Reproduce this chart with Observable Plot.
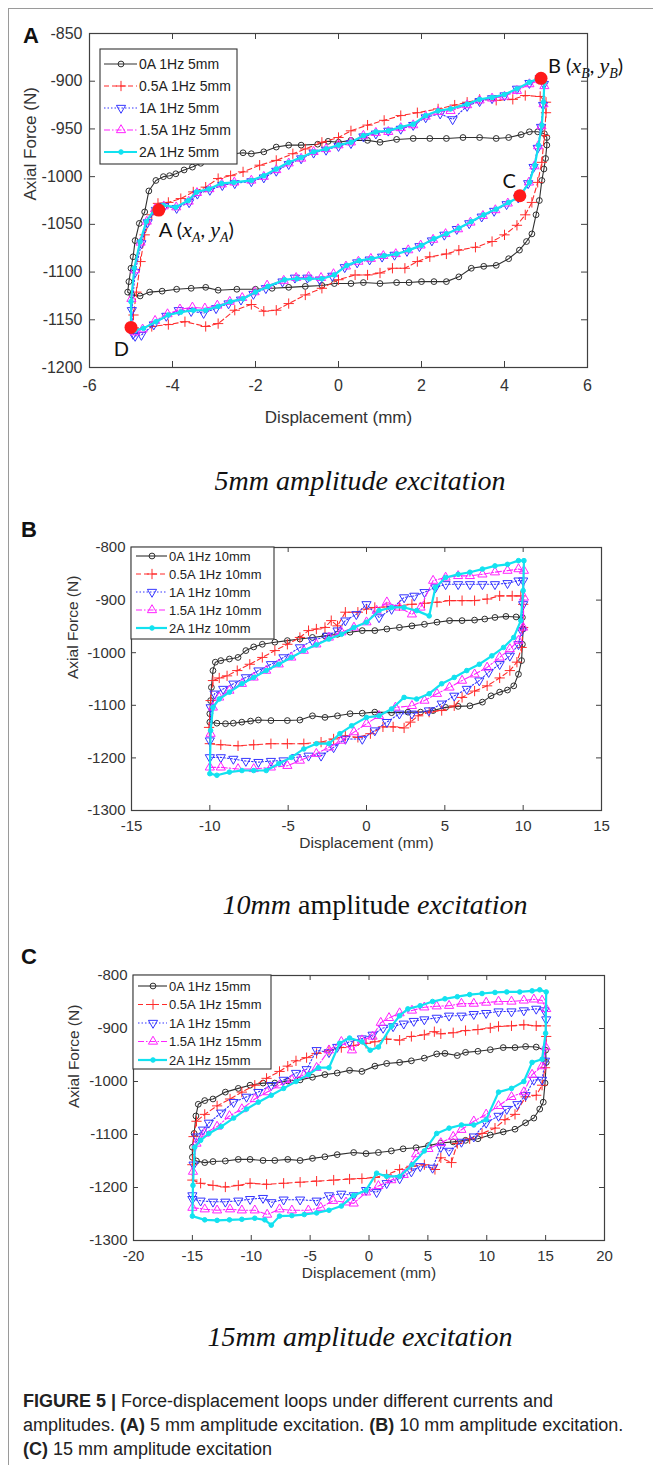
<!DOCTYPE html>
<html><head><meta charset="utf-8">
<script src="https://cdn.jsdelivr.net/npm/d3@7"></script>
<script src="https://cdn.jsdelivr.net/npm/@observablehq/plot@0.6"></script>
<style>
body{margin:0;background:#fff;}
#page{position:relative;width:653px;height:1465px;overflow:hidden;background:#fff;}
#page svg{overflow:visible;}
</style></head><body><div id="page"></div>
<script>
// ---------- DATA ----------
const seriesKeys = ["0A", "0.5A", "1A", "1.5A", "2A"];
const legendA = ["0A 1Hz 5mm", "0.5A 1Hz 5mm", "1A 1Hz 5mm", "1.5A 1Hz 5mm", "2A 1Hz 5mm"];
const legendB = ["0A 1Hz 10mm", "0.5A 1Hz 10mm", "1A 1Hz 10mm", "1.5A 1Hz 10mm", "2A 1Hz 10mm"];
const legendC = ["0A 1Hz 15mm", "0.5A 1Hz 15mm", "1A 1Hz 15mm", "1.5A 1Hz 15mm", "2A 1Hz 15mm"];

const xTicksA = [-6, -4, -2, 0, 2, 4, 6];
const yTicksA = [-1200, -1150, -1100, -1050, -1000, -950, -900, -850];
const xTicksB = [-15, -10, -5, 0, 5, 10, 15];
const yTicksB = [-1300, -1200, -1100, -1000, -900, -800];
const xTicksC = [-20, -15, -10, -5, 0, 5, 10, 15, 20];
const yTicksC = [-1300, -1200, -1100, -1000, -900, -800];

// Panel A: 5 mm
const a5_0A = [[-5.08,-1121],[-5.05,-1110],[-5.0,-1096],[-4.95,-1084],[-4.9,-1067],[-4.8,-1049],[-4.67,-1037],[-4.57,-1015],[-4.4,-1004],[-4.22,-1000],[-4.07,-999],[-3.92,-997],[-3.72,-993],[-3.52,-990],[-3.32,-986],[-3.12,-983],[-2.92,-980],[-2.72,-974],[-2.52,-976],[-2.3,-975],[-2.1,-976],[-1.8,-974],[-1.5,-969],[-1.2,-967],[-0.9,-967],[-0.5,-966],[-0.25,-963],[0,-964],[0.3,-962],[0.7,-962],[1.0,-964],[1.4,-961],[1.8,-960],[2.2,-960],[2.6,-960],[3.0,-959],[3.4,-959],[3.8,-960],[4.1,-959],[4.4,-956],[4.6,-953],[4.8,-953],[4.96,-955],[5.02,-959],[5.02,-967],[4.99,-981],[4.95,-992],[4.9,-1004],[4.84,-1025],[4.76,-1040],[4.66,-1060],[4.53,-1068],[4.36,-1077],[4.1,-1086],[3.8,-1093],[3.5,-1094],[3.2,-1096],[2.9,-1105],[2.6,-1110],[2.3,-1110],[2.0,-1110],[1.7,-1111],[1.4,-1111],[1.0,-1112],[0.6,-1111],[0.3,-1112],[-0.1,-1112],[-0.4,-1114],[-0.8,-1115],[-1.2,-1116],[-1.6,-1117],[-2.0,-1118],[-2.45,-1118],[-2.9,-1119],[-3.2,-1116],[-3.55,-1117],[-3.9,-1118],[-4.25,-1120],[-4.55,-1121],[-4.78,-1125],[-4.98,-1124]];
const a5_05A = [[-4.94,-1159],[-4.5,-1157],[-4.1,-1155],[-3.7,-1152],[-3.2,-1157],[-2.9,-1154],[-2.5,-1140],[-2.1,-1134],[-1.8,-1141],[-1.5,-1140],[-1.2,-1133],[-0.8,-1124],[-0.4,-1117],[0,-1108],[0.4,-1103],[0.7,-1103],[1.0,-1101],[1.3,-1096],[1.6,-1096],[1.9,-1089],[2.2,-1084],[2.6,-1081],[2.9,-1077],[3.3,-1074],[3.7,-1068],[4.0,-1061],[4.3,-1051],[4.5,-1040],[4.66,-1027],[4.8,-1006],[4.9,-985],[4.96,-957],[5.0,-933],[5.0,-922],[4.86,-916],[4.5,-915],[4.2,-919],[3.8,-920],[3.4,-919],[3.1,-922],[2.8,-925],[2.4,-929],[1.9,-933],[1.5,-936],[1.1,-941],[0.7,-946],[0.3,-952],[0,-959],[-0.4,-964],[-0.8,-971],[-1.1,-976],[-1.5,-983],[-1.9,-988],[-2.3,-995],[-2.6,-999],[-2.9,-1002],[-3.2,-1011],[-3.5,-1016],[-3.8,-1023],[-4.1,-1027],[-4.35,-1028],[-4.5,-1040],[-4.67,-1061],[-4.77,-1089],[-4.87,-1121],[-4.94,-1145]];
const a5_1A = [[-4.95,-1165],[-4.98,-1140],[-4.9,-1100],[-4.75,-1070],[-4.6,-1048],[-4.4,-1035],[-4.2,-1031],[-3.9,-1033],[-3.6,-1027],[-3.4,-1018],[-3.1,-1014],[-2.8,-1009],[-2.5,-1007],[-2.1,-1005],[-1.8,-1001],[-1.5,-994],[-1.2,-987],[-0.9,-981],[-0.6,-975],[-0.3,-972],[0,-968],[0.3,-965],[0.6,-958],[0.9,-955],[1.2,-952],[1.5,-950],[1.8,-946],[2.1,-938],[2.45,-934],[2.75,-940],[3.1,-926],[3.4,-921],[3.7,-918],[4.0,-915],[4.3,-908],[4.6,-902],[4.85,-897],[4.95,-903],[4.93,-925],[4.88,-948],[4.8,-970],[4.7,-990],[4.57,-1007],[4.33,-1022],[4.05,-1029],[3.75,-1036],[3.45,-1042],[3.15,-1049],[2.85,-1055],[2.55,-1061],[2.25,-1067],[1.95,-1073],[1.65,-1078],[1.35,-1082],[1.05,-1084],[0.75,-1087],[0.45,-1090],[0.15,-1095],[-0.15,-1104],[-0.45,-1108],[-0.75,-1106],[-1.05,-1106],[-1.35,-1110],[-1.75,-1117],[-2.05,-1123],[-2.35,-1129],[-2.65,-1133],[-2.95,-1138],[-3.25,-1143],[-3.55,-1141],[-3.85,-1140],[-4.15,-1146],[-4.45,-1155],[-4.75,-1166],[-4.9,-1167]];
const a5_15A = [[-4.98,-1160],[-4.99,-1128],[-4.91,-1098],[-4.77,-1069],[-4.62,-1047],[-4.42,-1034],[-4.21,-1031],[-3.91,-1032],[-3.61,-1026],[-3.41,-1017],[-3.11,-1013],[-2.81,-1008],[-2.51,-1006],[-2.1,-1004],[-1.8,-1000],[-1.5,-993],[-1.2,-986],[-0.9,-981],[-0.6,-974],[-0.3,-971],[0,-967],[0.3,-964],[0.6,-957],[0.9,-954],[1.2,-953],[1.5,-949],[1.8,-946],[2.1,-937],[2.4,-932],[2.7,-931],[3.1,-925],[3.4,-920],[3.7,-918],[4.0,-916],[4.3,-910],[4.6,-903],[4.87,-899],[4.96,-905],[4.94,-924],[4.89,-947],[4.81,-968],[4.72,-989],[4.59,-1006],[4.35,-1021],[4.08,-1028],[3.78,-1035],[3.48,-1041],[3.18,-1048],[2.88,-1055],[2.58,-1060],[2.28,-1066],[1.98,-1072],[1.68,-1077],[1.38,-1081],[1.08,-1083],[0.78,-1086],[0.48,-1089],[0.18,-1094],[-0.12,-1102],[-0.42,-1106],[-0.72,-1105],[-1.02,-1106],[-1.32,-1109],[-1.72,-1114],[-2.02,-1121],[-2.32,-1127],[-2.62,-1131],[-2.92,-1135],[-3.22,-1138],[-3.52,-1137],[-3.82,-1139],[-4.12,-1144],[-4.42,-1151],[-4.72,-1160],[-4.9,-1163]];
const a5_2A = [[-5.0,-1157],[-5.0,-1131],[-4.92,-1096],[-4.78,-1068],[-4.63,-1047],[-4.43,-1034],[-4.22,-1030],[-3.92,-1032],[-3.62,-1025],[-3.42,-1016],[-3.12,-1013],[-2.82,-1007],[-2.52,-1006],[-2.1,-1004],[-1.8,-999],[-1.5,-992],[-1.2,-985],[-0.9,-980],[-0.6,-974],[-0.3,-971],[0,-967],[0.3,-964],[0.6,-957],[0.9,-953],[1.2,-952],[1.5,-948],[1.8,-945],[2.1,-936],[2.4,-931],[2.7,-929],[3.1,-924],[3.4,-919],[3.7,-917],[4.0,-914],[4.3,-908],[4.6,-901],[4.88,-896],[4.96,-901],[4.94,-922],[4.9,-946],[4.82,-967],[4.73,-988],[4.6,-1006],[4.36,-1021],[4.1,-1027],[3.8,-1034],[3.5,-1040],[3.2,-1047],[2.9,-1054],[2.6,-1060],[2.3,-1065],[2.0,-1072],[1.7,-1077],[1.4,-1081],[1.1,-1083],[0.8,-1086],[0.5,-1088],[0.2,-1093],[-0.1,-1103],[-0.4,-1107],[-0.7,-1107],[-1.0,-1107],[-1.3,-1108],[-1.7,-1115],[-2.0,-1121],[-2.3,-1128],[-2.6,-1131],[-2.9,-1136],[-3.2,-1140],[-3.5,-1140],[-3.8,-1142],[-4.1,-1145],[-4.4,-1152],[-4.7,-1159],[-4.9,-1161]];

// Key points on the 5 mm loop
const keyLabels = ["A", "B", "C", "D"];
const keyX = [-4.33, 4.88, 4.37, -5.0];
const keyY = [-1035, -897, -1020, -1158];

// Panel B: 10 mm
const b10_0A = [[-10.0,-1132],[-9.55,-1134],[-9.0,-1135],[-8.5,-1134],[-7.96,-1132],[-7.4,-1130],[-6.9,-1128],[-6.1,-1129],[-5.05,-1129],[-4.25,-1128],[-3.45,-1120],[-2.65,-1123],[-1.85,-1120],[-1.05,-1116],[-0.27,-1115],[0.53,-1113],[1.6,-1114],[2.65,-1113],[3.45,-1113],[4.25,-1110],[5.05,-1104],[5.85,-1102],[6.6,-1101],[7.4,-1094],[7.95,-1082],[8.5,-1075],[9.0,-1071],[9.4,-1063],[9.7,-1041],[9.9,-1015],[9.95,-984],[10.0,-955],[9.95,-933],[9.55,-932],[8.9,-931],[8.2,-933],[7.55,-936],[6.9,-938],[6.1,-939],[5.3,-939],[4.5,-942],[3.7,-946],[2.9,-949],[2.1,-952],[1.3,-955],[0.53,-958],[-0.27,-958],[-1.05,-961],[-1.85,-965],[-2.65,-968],[-3.45,-971],[-4.25,-974],[-5.05,-977],[-5.85,-980],[-6.65,-984],[-7.2,-989],[-7.7,-996],[-8.2,-1009],[-8.75,-1012],[-9.3,-1015],[-9.65,-1018],[-9.8,-1034],[-9.9,-1066],[-9.95,-1091],[-10.0,-1116]];
const b10_05A = [[-10.0,-1173],[-9.3,-1175],[-8.2,-1177],[-7.2,-1175],[-6.1,-1173],[-5.05,-1173],[-4.0,-1173],[-2.9,-1170],[-2.1,-1164],[-1.35,-1158],[-0.55,-1161],[0.25,-1154],[1.05,-1141],[1.7,-1141],[2.4,-1143],[2.8,-1132],[3.3,-1120],[4.0,-1113],[4.8,-1110],[5.6,-1101],[6.1,-1085],[6.9,-1073],[7.7,-1063],[8.5,-1048],[9.15,-1034],[9.6,-1018],[9.9,-990],[10.0,-952],[10.0,-908],[9.85,-892],[9.3,-892],[8.5,-892],[7.7,-898],[6.9,-901],[6.1,-901],[5.3,-901],[4.5,-904],[3.7,-906],[2.9,-908],[2.1,-911],[1.3,-913],[0.53,-914],[0.0,-917],[-0.55,-923],[-1.35,-923],[-1.85,-949],[-2.25,-939],[-2.65,-952],[-3.2,-955],[-3.7,-958],[-4.25,-971],[-5.05,-984],[-5.85,-996],[-6.65,-1009],[-7.45,-1022],[-8.25,-1034],[-8.9,-1044],[-9.4,-1048],[-9.8,-1053],[-9.95,-1091],[-10.05,-1142]];
const b10_1A = [[-10.0,-1199],[-9.3,-1199],[-8.5,-1202],[-7.7,-1206],[-6.9,-1208],[-6.1,-1206],[-5.3,-1205],[-4.5,-1199],[-3.7,-1196],[-2.9,-1196],[-2.1,-1180],[-1.35,-1164],[-0.27,-1164],[0.53,-1148],[1.3,-1132],[2.1,-1116],[2.9,-1116],[3.98,-1110],[4.8,-1097],[5.6,-1082],[6.4,-1069],[7.2,-1053],[7.8,-1037],[8.5,-1022],[9.15,-1006],[9.7,-984],[9.9,-958],[10.0,-908],[10.0,-863],[9.7,-863],[9.0,-868],[8.2,-870],[7.4,-870],[6.6,-870],[5.85,-870],[5.05,-870],[4.4,-876],[3.7,-885],[3.05,-892],[2.4,-895],[1.6,-917],[0.8,-933],[0.0,-908],[-0.65,-927],[-1.35,-939],[-1.85,-958],[-2.5,-968],[-3.45,-977],[-4.25,-990],[-5.3,-1009],[-6.1,-1022],[-6.9,-1034],[-7.7,-1047],[-8.5,-1059],[-9.15,-1069],[-9.7,-1078],[-9.95,-1104],[-10.0,-1167]];
const b10_15A = [[-10.0,-1218],[-9.3,-1218],[-8.2,-1221],[-7.2,-1221],[-6.1,-1218],[-5.05,-1215],[-4.25,-1205],[-3.2,-1192],[-2.4,-1180],[-1.6,-1167],[-0.8,-1151],[0.0,-1135],[0.8,-1120],[1.85,-1104],[2.9,-1101],[3.7,-1091],[4.5,-1078],[5.3,-1066],[6.1,-1053],[6.9,-1041],[7.7,-1028],[8.5,-1009],[9.15,-993],[9.7,-977],[10.0,-952],[10.05,-895],[10.05,-844],[9.7,-841],[9.0,-844],[8.2,-847],[7.4,-851],[6.6,-854],[5.85,-854],[5.05,-857],[4.25,-863],[3.45,-914],[2.9,-927],[2.1,-914],[1.3,-904],[0.65,-920],[0.0,-942],[-0.8,-952],[-1.6,-961],[-2.4,-971],[-3.2,-984],[-4.0,-996],[-4.8,-1009],[-5.6,-1022],[-6.4,-1034],[-7.2,-1047],[-7.95,-1059],[-8.75,-1072],[-9.4,-1085],[-9.8,-1104],[-9.95,-1154]];
const b10_2A = [[-10.0,-1230],[-9.55,-1233],[-8.75,-1227],[-7.95,-1224],[-7.2,-1224],[-6.4,-1224],[-5.6,-1211],[-4.8,-1199],[-4.0,-1183],[-3.2,-1173],[-2.4,-1173],[-1.7,-1154],[-0.95,-1139],[0.0,-1123],[0.8,-1120],[1.6,-1107],[2.4,-1085],[3.2,-1088],[4.0,-1078],[4.8,-1059],[5.6,-1047],[6.4,-1034],[7.2,-1022],[8.0,-1006],[8.75,-990],[9.4,-971],[9.85,-939],[10.0,-882],[10.05,-825],[9.7,-825],[9.0,-832],[8.2,-835],[7.4,-841],[6.6,-847],[5.85,-851],[5.05,-857],[4.4,-876],[4.0,-930],[3.2,-920],[2.4,-914],[1.6,-914],[0.8,-920],[0.0,-942],[-0.8,-952],[-1.6,-965],[-2.4,-974],[-3.2,-985],[-4.0,-996],[-4.8,-1009],[-5.6,-1022],[-6.4,-1034],[-7.2,-1047],[-7.95,-1059],[-8.75,-1075],[-9.4,-1088],[-9.8,-1104],[-9.95,-1148]];

// Panel C: 15 mm
const c15_0A = [[-15.0,-1143],[-14.65,-1150],[-13.95,-1153],[-13.25,-1151],[-12.2,-1150],[-11.1,-1147],[-10.1,-1147],[-9.0,-1149],[-8.0,-1149],[-6.9,-1147],[-5.85,-1149],[-4.8,-1145],[-3.75,-1142],[-2.7,-1138],[-1.3,-1134],[-0.25,-1136],[0.8,-1134],[1.9,-1131],[2.9,-1127],[4.0,-1125],[5.05,-1121],[6.1,-1116],[7.15,-1114],[8.2,-1111],[9.25,-1108],[10.3,-1101],[11.4,-1095],[12.4,-1090],[13.3,-1078],[14.0,-1069],[14.5,-1052],[14.8,-1039],[14.95,-1003],[15.05,-964],[15.0,-941],[14.2,-935],[13.3,-934],[12.4,-936],[11.4,-936],[10.3,-940],[9.25,-943],[8.2,-945],[7.5,-951],[6.45,-947],[5.75,-948],[4.7,-956],[3.6,-961],[2.6,-964],[1.5,-966],[0.5,-971],[-0.6,-981],[-1.65,-979],[-2.7,-984],[-3.75,-987],[-4.8,-992],[-5.85,-997],[-6.9,-999],[-8.0,-1003],[-9.0,-1003],[-10.1,-1007],[-11.1,-1013],[-12.2,-1020],[-13.25,-1033],[-13.95,-1036],[-14.5,-1043],[-14.7,-1065],[-14.85,-1098],[-15.0,-1124]];
const c15_05A = [[-15.0,-1186],[-14.3,-1192],[-13.25,-1196],[-12.2,-1199],[-11.1,-1196],[-10.1,-1192],[-8.7,-1194],[-7.25,-1192],[-5.85,-1190],[-4.45,-1188],[-3.0,-1186],[-1.65,-1184],[-0.6,-1183],[0.5,-1181],[1.5,-1176],[2.6,-1166],[3.6,-1160],[4.7,-1157],[5.6,-1166],[6.1,-1144],[7.0,-1153],[7.5,-1117],[8.55,-1108],[9.6,-1098],[10.7,-1088],[11.55,-1072],[12.4,-1062],[13.3,-1029],[14.2,-1026],[14.7,-1007],[14.95,-974],[15.05,-915],[15.0,-895],[14.2,-895],[13.15,-893],[12.1,-895],[11.0,-896],[10.3,-899],[9.25,-902],[8.2,-904],[7.15,-908],[6.1,-910],[5.55,-906],[4.7,-912],[3.6,-915],[2.6,-922],[1.5,-920],[0.5,-925],[-0.25,-928],[-1.3,-932],[-2.35,-936],[-3.4,-941],[-4.45,-947],[-5.3,-955],[-6.2,-961],[-6.9,-971],[-7.6,-981],[-8.7,-994],[-9.7,-1007],[-10.8,-1020],[-11.8,-1033],[-12.9,-1046],[-13.95,-1062],[-14.65,-1075],[-14.9,-1104],[-15.0,-1157]];
const c15_1A = [[-15.0,-1222],[-14.3,-1225],[-13.25,-1227],[-12.2,-1227],[-11.1,-1225],[-10.1,-1222],[-9.0,-1220],[-8.3,-1228],[-7.25,-1223],[-5.85,-1223],[-4.45,-1225],[-3.4,-1215],[-2.35,-1212],[-1.3,-1215],[-0.25,-1205],[0.65,-1209],[1.5,-1192],[2.6,-1183],[3.6,-1170],[4.35,-1160],[5.4,-1163],[6.1,-1124],[6.8,-1131],[7.85,-1114],[8.9,-1104],[9.95,-1078],[11.0,-1065],[11.7,-1052],[12.6,-1043],[13.3,-1026],[14.0,-997],[14.7,-997],[14.95,-961],[15.05,-883],[14.9,-866],[14.2,-863],[13.15,-866],[12.1,-868],[11.0,-868],[9.95,-871],[8.9,-873],[7.85,-876],[6.8,-876],[5.75,-880],[4.7,-883],[3.8,-886],[2.95,-891],[2.05,-896],[1.2,-899],[0.3,-912],[-0.6,-919],[-1.65,-925],[-2.7,-935],[-3.4,-945],[-4.45,-941],[-5.3,-977],[-6.2,-984],[-7.25,-997],[-8.3,-1007],[-9.4,-1020],[-10.4,-1029],[-11.5,-1039],[-12.55,-1059],[-13.6,-1078],[-14.1,-1091],[-14.65,-1104],[-14.9,-1157],[-15.0,-1215]];
const c15_15A = [[-15.0,-1238],[-13.95,-1241],[-12.9,-1243],[-11.8,-1241],[-10.8,-1243],[-9.7,-1243],[-8.65,-1251],[-7.6,-1241],[-6.55,-1243],[-5.15,-1243],[-4.1,-1238],[-3.05,-1225],[-1.95,-1228],[-1.3,-1230],[-0.25,-1209],[0.8,-1197],[1.9,-1186],[2.95,-1176],[4.0,-1137],[5.05,-1127],[6.1,-1116],[7.15,-1104],[7.85,-1091],[8.9,-1075],[9.95,-1062],[11.0,-1046],[12.1,-1029],[13.15,-1020],[13.85,-987],[14.7,-971],[15.0,-935],[15.05,-863],[14.7,-847],[14.0,-845],[13.15,-847],[12.1,-849],[11.0,-849],[9.95,-851],[8.9,-853],[7.85,-853],[6.8,-857],[5.75,-858],[4.7,-860],[3.65,-866],[2.6,-871],[1.7,-880],[1.0,-889],[0.3,-915],[-0.6,-922],[-1.45,-941],[-2.35,-925],[-3.4,-941],[-4.45,-974],[-5.5,-987],[-6.55,-997],[-7.6,-1007],[-8.65,-1020],[-9.7,-1033],[-10.8,-1052],[-11.85,-1065],[-12.9,-1085],[-13.95,-1098],[-14.65,-1117],[-14.95,-1170]];
const c15_2A = [[-15.0,-1254],[-13.95,-1261],[-12.9,-1262],[-11.85,-1261],[-10.8,-1260],[-9.7,-1258],[-8.85,-1261],[-8.3,-1271],[-7.6,-1254],[-6.55,-1253],[-5.5,-1251],[-4.45,-1248],[-3.4,-1243],[-2.35,-1235],[-1.3,-1215],[-0.25,-1205],[0.65,-1173],[1.5,-1179],[2.6,-1179],[3.65,-1157],[4.7,-1131],[5.75,-1098],[6.8,-1088],[7.85,-1082],[8.9,-1082],[9.95,-1072],[11.0,-1020],[12.1,-1013],[13.15,-1000],[13.85,-964],[14.7,-958],[15.0,-909],[15.05,-831],[14.5,-827],[13.85,-829],[12.8,-831],[11.7,-831],[10.7,-832],[9.6,-834],[8.55,-836],[7.5,-840],[6.45,-844],[5.4,-849],[4.35,-857],[3.3,-863],[2.6,-876],[1.9,-896],[0.8,-935],[0.1,-941],[-0.6,-925],[-1.65,-918],[-2.5,-928],[-3.4,-974],[-4.3,-974],[-5.15,-987],[-6.2,-1000],[-7.25,-1013],[-8.3,-1026],[-9.4,-1039],[-10.4,-1052],[-11.5,-1069],[-12.55,-1085],[-13.6,-1098],[-14.3,-1111],[-14.8,-1124],[-14.95,-1196]];

// ---------- STYLES / LAYOUT ----------
const triangleDown = {
  draw(context, size) {
    const y = -Math.sqrt(size / (Math.sqrt(3) * 3));
    context.moveTo(0, -y * 2);
    context.lineTo(-Math.sqrt(3) * y, y);
    context.lineTo(Math.sqrt(3) * y, y);
    context.closePath();
  }
};
const styles = [
  {color: "#303030", width: 1.1, dash: null, sym: "circle", r: 2.9, filled: false},
  {color: "#ff2b2b", width: 1.1, dash: "5,3", sym: "plus", r: 3.4, filled: false},
  {color: "#3535ff", width: 1.1, dash: "1.5,2", sym: triangleDown, r: 3.4, filled: false},
  {color: "#ff22ff", width: 1.1, dash: "6,2,1.5,2", sym: "triangle", r: 3.4, filled: false},
  {color: "#12e2f0", width: 2.2, dash: null, sym: "circle", r: 2.3, filled: true}
];
const FONT = "'Liberation Sans', Arial, Helvetica, sans-serif";

const panels = [
  {top: 0, height: 440, ml: 89, mr: 66, mt: 33, mb: 73, xDomain: [-6, 6], yDomain: [-1200, -850],
   xTicks: xTicksA, yTicks: yTicksA, fs: 16, lfs: 17, xPad: 12, yPad: 7, xLabelDy: 55, yLabelDx: -59, tick: 6,
   series: [a5_0A, a5_05A, a5_1A, a5_15A, a5_2A], labels: legendA, key: true,
   legend: {x: 100, y: 49, w: 137, h: 115, rows: [64, 86, 108, 130, 152], lx1: 104, lx2: 137, mx: 121, tx: 139, fs: 14}},
  {top: 500, height: 380, ml: 131, mr: 52, mt: 47, mb: 70, xDomain: [-15, 15], yDomain: [-1300, -800],
   xTicks: xTicksB, yTicks: yTicksB, fs: 15, lfs: 15.5, xPad: 10, yPad: 6, xLabelDy: 37, yLabelDx: -58, tick: 5,
   series: [b10_0A, b10_05A, b10_1A, b10_15A, b10_2A], labels: legendB, key: false,
   legend: {x: 131, y: 547, w: 143, h: 92, rows: [556, 574, 592, 610, 628], lx1: 136, lx2: 167, mx: 152, tx: 169, fs: 13}},
  {top: 930, height: 380, ml: 133, mr: 49, mt: 45, mb: 70, xDomain: [-20, 20], yDomain: [-1300, -800],
   xTicks: xTicksC, yTicks: yTicksC, fs: 15, lfs: 15.5, xPad: 10, yPad: 6, xLabelDy: 37, yLabelDx: -59, tick: 5,
   series: [c15_0A, c15_05A, c15_1A, c15_15A, c15_2A], labels: legendC, key: false,
   legend: {x: 133, y: 975, w: 138, h: 94, rows: [986, 1004.5, 1023, 1041.5, 1060], lx1: 138, lx2: 167, mx: 153, tx: 169, fs: 13}}
];

const page = document.getElementById("page");

function symbolPath(sym, r) {
  const type = typeof sym === "string" ? ({circle: d3.symbolCircle, plus: d3.symbolPlus, triangle: d3.symbolTriangle})[sym] : sym;
  return d3.symbol(type, r * r * Math.PI)();
}

function makePanel(cfg) {
  const [x0, x1] = cfg.xDomain, [y0, y1] = cfg.yDomain;
  const fw = 653 - cfg.ml - cfg.mr, fh = cfg.height - cfg.mt - cfg.mb;
  const tx = (x1 - x0) * cfg.tick / fw, ty = (y1 - y0) * cfg.tick / fh;
  const axisColor = "#404040";
  const marks = [];
  cfg.series.forEach((data, i) => {
    const s = styles[i];
    marks.push(Plot.line(data.concat([data[0]]), {x: d => d[0], y: d => d[1], stroke: s.color, strokeWidth: s.width, strokeDasharray: s.dash}));
    marks.push(Plot.dot(data, {x: d => d[0], y: d => d[1], symbol: s.sym, r: s.r, stroke: s.color, strokeWidth: 1, fill: s.filled ? s.color : "none"}));
  });
  if (cfg.key) {
    const pts = keyLabels.map((l, i) => ({l, x: keyX[i], y: keyY[i]}));
    marks.push(Plot.dot(pts, {x: "x", y: "y", r: 6.5, fill: "#ff1a1a", stroke: "none"}));
    const lab = (l) => l === "A" ? "A (xA, yA)" : l === "B" ? "B (xB, yB)" : l;
    const font = {fontFamily: "Lato, 'Open Sans', sans-serif", fontSize: 20, fill: "#111"};
    marks.push(Plot.text(pts.filter(d => d.l === "A"), {x: "x", y: "y", text: d => lab(d.l), textAnchor: "start", dx: 0, dy: 21, ...font}));
    marks.push(Plot.text(pts.filter(d => d.l === "B"), {x: "x", y: "y", text: d => lab(d.l), textAnchor: "start", dx: 7, dy: -12, ...font}));
    marks.push(Plot.text(pts.filter(d => d.l === "C"), {x: "x", y: "y", text: d => lab(d.l), textAnchor: "end", dx: -4, dy: -14, ...font}));
    marks.push(Plot.text(pts.filter(d => d.l === "D"), {x: "x", y: "y", text: d => lab(d.l), textAnchor: "end", dx: -2, dy: 22, ...font}));
  }
  marks.push(Plot.frame({stroke: axisColor, strokeWidth: 1.2}));
  marks.push(Plot.ruleX(cfg.xTicks, {x: d => d, y1: y0, y2: y0 + ty, stroke: axisColor}));
  marks.push(Plot.ruleX(cfg.xTicks, {x: d => d, y1: y1, y2: y1 - ty, stroke: axisColor}));
  marks.push(Plot.ruleY(cfg.yTicks, {y: d => d, x1: x0, x2: x0 + tx, stroke: axisColor}));
  marks.push(Plot.ruleY(cfg.yTicks, {y: d => d, x1: x1, x2: x1 - tx, stroke: axisColor}));
  marks.push(Plot.axisX({ticks: cfg.xTicks, tickSize: 0, tickPadding: cfg.xPad, tickFormat: d => String(d), label: null, fontSize: cfg.fs, fill: "#333"}));
  marks.push(Plot.axisY({ticks: cfg.yTicks, tickSize: 0, tickPadding: cfg.yPad, tickFormat: d => String(d), label: null, fontSize: cfg.fs, fill: "#333"}));
  marks.push(Plot.text(["Displacement (mm)"], {text: d => d, frameAnchor: "bottom", dy: cfg.xLabelDy, fontSize: cfg.lfs, fill: "#333"}));
  marks.push(Plot.text(["Axial Force (N)"], {text: d => d, frameAnchor: "left", dx: cfg.yLabelDx, rotate: -90, fontSize: cfg.lfs, fill: "#333"}));

  const svg = Plot.plot({
    width: 653, height: cfg.height,
    marginLeft: cfg.ml, marginRight: cfg.mr, marginTop: cfg.mt, marginBottom: cfg.mb,
    x: {domain: cfg.xDomain, label: null},
    y: {domain: cfg.yDomain, label: null},
    style: {fontFamily: FONT, background: "transparent", color: "#333", overflow: "visible"},
    marks
  });

  // math-style labels for key points
  d3.select(svg).selectAll("text").each(function () {
    const m = /^([AB]) \(x([AB]), y([AB])\)$/.exec(this.textContent);
    if (!m) return;
    const el = d3.select(this); el.text(null);
    const L = m[1];
    const serif = "'Liberation Serif', 'DejaVu Serif', serif";
    el.append("tspan").text(L + " (");
    el.append("tspan").attr("font-family", serif).attr("font-style", "italic").attr("font-size", 22).text("x");
    el.append("tspan").attr("font-family", serif).attr("font-style", "italic").attr("font-size", 14).attr("dy", 5).text(L);
    el.append("tspan").attr("dy", -5).text(", ");
    el.append("tspan").attr("font-family", serif).attr("font-style", "italic").attr("font-size", 22).text("y");
    el.append("tspan").attr("font-family", serif).attr("font-style", "italic").attr("font-size", 14).attr("dy", 5).text(L);
    el.append("tspan").attr("dy", -5).text(")");
  });

  // legend box (drawn on top, like MATLAB's opaque legend)
  const L = cfg.legend, off = cfg.top;
  const g = d3.select(svg).append("g").attr("font-family", FONT).attr("text-anchor", "start");
  g.append("rect").attr("x", L.x).attr("y", L.y - off).attr("width", L.w).attr("height", L.h)
    .attr("fill", "#fff").attr("stroke", "#333").attr("stroke-width", 1.1);
  cfg.labels.forEach((label, i) => {
    const s = styles[i], y = L.rows[i] - off;
    const ln = g.append("line").attr("x1", L.lx1).attr("x2", L.lx2).attr("y1", y).attr("y2", y)
      .attr("stroke", s.color).attr("stroke-width", s.width);
    if (s.dash) ln.attr("stroke-dasharray", s.dash);
    g.append("path").attr("transform", `translate(${L.mx},${y})`).attr("d", symbolPath(s.sym, s.r))
      .attr("fill", s.filled ? s.color : "none").attr("stroke", s.color).attr("stroke-width", 1);
    g.append("text").attr("x", L.tx).attr("y", y).attr("dy", "0.36em").attr("text-anchor", "start")
      .attr("font-size", L.fs).attr("fill", "#222").text(label);
  });

  svg.style.position = "absolute";
  svg.style.left = "0px";
  svg.style.top = cfg.top + "px";
  page.appendChild(svg);
}

panels.forEach(makePanel);

// ---------- static page texts ----------
const ov = d3.select(page).append("svg").attr("width", 653).attr("height", 1465)
  .style("position", "absolute").style("left", 0).style("top", 0).style("pointer-events", "none");
ov.append("line").attr("x1", 8.5).attr("x2", 8.5).attr("y1", 8).attr("y2", 1465).attr("stroke", "#9a9a9a").attr("stroke-width", 1);
ov.append("line").attr("x1", 8).attr("x2", 653).attr("y1", 8.5).attr("y2", 8.5).attr("stroke", "#9a9a9a").attr("stroke-width", 1);

const panelLetters = [{t: "A", x: 23, y: 43}, {t: "B", x: 21, y: 537}, {t: "C", x: 21, y: 964}];
panelLetters.forEach(p => ov.append("text").attr("x", p.x).attr("y", p.y).attr("font-family", FONT)
  .attr("font-weight", "bold").attr("font-size", 22).attr("fill", "#111").text(p.t));

const SERIF = "'Liberation Serif', 'Times New Roman', serif";
function sub(parts, x, y) {
  const t = ov.append("text").attr("x", x).attr("y", y).attr("text-anchor", "middle")
    .attr("font-family", SERIF).attr("font-size", 28).attr("fill", "#111");
  parts.forEach(([s, it]) => t.append("tspan").attr("font-style", it ? "italic" : "normal").text(s));
}
sub([["5mm amplitude excitation", true]], 360, 490);
sub([["10mm", true], [" amplitude ", false], ["excitation", true]], 375, 914);
sub([["15mm amplitude excitation", true]], 360, 1346);

const capLines = [
  [["FIGURE 5 | ", true], ["Force-displacement loops under different currents and", false]],
  [["amplitudes. ", false], ["(A)", true], [" 5 mm amplitude excitation. ", false], ["(B)", true], [" 10 mm amplitude excitation.", false]],
  [["(C)", true], [" 15 mm amplitude excitation", false]]
];
capLines.forEach((line, i) => {
  const t = ov.append("text").attr("x", 23).attr("y", 1407 + i * 24).attr("font-family", FONT)
    .attr("font-size", 18).attr("fill", "#222");
  line.forEach(([s, b]) => t.append("tspan").attr("font-weight", b ? "bold" : "normal").text(s));
});
</script></body></html>
